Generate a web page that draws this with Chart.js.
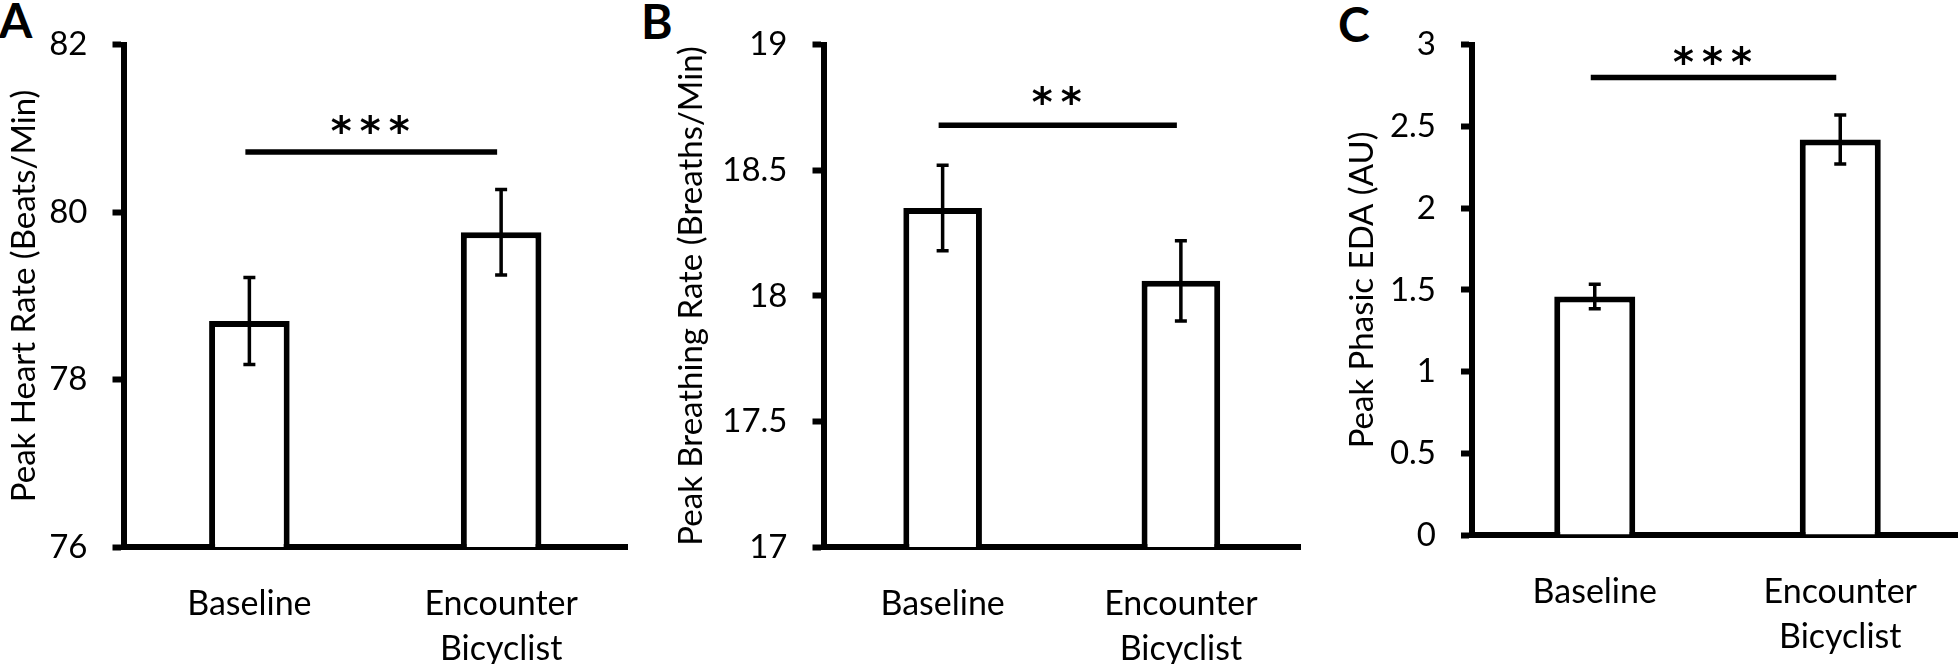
<!DOCTYPE html>
<html>
<head>
<meta charset="utf-8">
<script src="https://cdn.jsdelivr.net/npm/chart.js@4.4.1/dist/chart.umd.min.js"></script>
<style>
  html, body { margin: 0; padding: 0; background: #fff; overflow: hidden; width: 1958px; height: 664px; }
  canvas { position: absolute; top: 0; }
  .tag { position: absolute; font-family: Lato, sans-serif; font-weight: 700; font-size: 48px; line-height: 1; color: #000; }
</style>
</head>
<body>
<div class="tag" style="left:-1px;top:-4px">A</div>
<div class="tag" style="left:641px;top:-3px">B</div>
<div class="tag" style="left:1338px;top:0px">C</div>
<canvas id="chartA" width="630" height="664" style="left:0"></canvas>
<canvas id="chartB" width="672" height="664" style="left:630px"></canvas>
<canvas id="chartC" width="665" height="664" style="left:1302px"></canvas>
<script>
// categories (second one wraps on two lines)
const categories = ["Baseline", ["Encounter", "Bicyclist"]];

// A - heart rate
const heartRate = [78.70, 79.76];
const heartErr = [0.52, 0.51];
const heartTicks = [76, 78, 80, 82];

// B - breathing rate
const breathRate = [18.35, 18.06];
const breathErr = [0.17, 0.16];
const breathTicks = [17, 17.5, 18, 18.5, 19];

// C - phasic EDA
const edaPeak = [1.46, 2.42];
const edaErr = [0.075, 0.15];
const edaTicks = [0, 0.5, 1, 1.5, 2, 2.5, 3];

// significance bracket: line level, star level, stars
const sigLine = [80.72, 18.68, 2.80];
const sigStarLevel = [81.05, 18.80, 2.94];
const sigStars = ["***", "**", "***"];

const TEXT = "#000";
const FONT = "Lato, 'Open Sans', sans-serif";

// draws error bars and the significance bracket on top of the bars
function makeOverlay(errors, lineVal, starVal, stars){
    return {
        id: "overlay",
        afterDatasetsDraw(chart){
            const ctx = chart.ctx;
            const y = chart.scales.y;
            const meta = chart.getDatasetMeta(0);
            const values = chart.data.datasets[0].data;
            ctx.save();
            ctx.strokeStyle = "#000";
            ctx.lineWidth = 3.5;
            ctx.lineCap = "butt";
            meta.data.forEach((bar, i) => {
                const top = y.getPixelForValue(values[i] + errors[i]);
                const bot = y.getPixelForValue(values[i] - errors[i]);
                ctx.beginPath();
                ctx.moveTo(bar.x, top); ctx.lineTo(bar.x, bot);
                ctx.moveTo(bar.x - 6, top); ctx.lineTo(bar.x + 6, top);
                ctx.moveTo(bar.x - 6, bot); ctx.lineTo(bar.x + 6, bot);
                ctx.stroke();
            });

            const x0 = meta.data[0].x;
            const x1 = meta.data[1].x;
            const ly = y.getPixelForValue(lineVal);
            ctx.lineWidth = 5.5;
            ctx.beginPath();
            ctx.moveTo(x0 - 4, ly);
            ctx.lineTo(x1 - 4, ly);
            ctx.stroke();

            ctx.fillStyle = "#000";
            ctx.font = "bold 40px 'DejaVu Sans'";
            ctx.textAlign = "center";
            ctx.textBaseline = "alphabetic";
            const m = ctx.measureText("*");
            const sy = y.getPixelForValue(starVal) + (m.actualBoundingBoxAscent - m.actualBoundingBoxDescent) / 2;
            const pitch = 29;
            const cx = (x0 + x1) / 2 - 5;
            const n = stars.length;
            for(let k = 0; k < n; k++){
                ctx.fillText("*", cx + (k - (n - 1) / 2) * pitch, sy);
            }
            ctx.restore();
        }
    };
}

function makeChart(id, opts){
    const ctx = document.getElementById(id).getContext("2d");
    return new Chart(ctx, {
        type: "bar",
        data: {
            labels: categories,
            datasets: [{
                data: opts.values,
                backgroundColor: "#fff",
                borderColor: "#000",
                borderWidth: 6,
                categoryPercentage: 1,
                barPercentage: opts.barPct
            }]
        },
        options: {
            responsive: false,
            animation: false,
            layout: { padding: { left: 0, top: opts.top, right: opts.right, bottom: 0 } },
            plugins: { legend: { display: false }, tooltip: { enabled: false } },
            scales: {
                x: {
                    grid: { display: false },
                    border: { display: true, color: "#000", width: 6 },
                    ticks: {
                        color: TEXT,
                        font: { family: FONT, size: 34, lineHeight: 1.32 },
                        padding: 27,
                        maxRotation: 0,
                        autoSkip: false
                    },
                    afterFit: s => { s.height = opts.xHeight; }
                },
                y: {
                    min: opts.ticks[0],
                    max: opts.ticks[opts.ticks.length - 1],
                    afterBuildTicks: s => { s.ticks = opts.ticks.map(v => ({ value: v })); },
                    grid: { display: true, drawOnChartArea: false, drawTicks: true, tickLength: 11, tickWidth: 6, tickColor: "#000" },
                    border: { display: true, color: "#000", width: 6 },
                    ticks: {
                        color: TEXT,
                        font: { family: FONT, size: 33 },
                        padding: 25,
                        callback: v => String(v)
                    },
                    title: {
                        display: true,
                        text: opts.title,
                        color: TEXT,
                        font: { family: FONT, size: 33, lineHeight: 1.2 },
                        padding: { top: opts.titlePad, bottom: 0 }
                    },
                    afterFit: s => { s.width = opts.yWidth; }
                }
            }
        },
        plugins: [makeOverlay(opts.errors, opts.sigLine, opts.sigStar, opts.stars)]
    });
}

makeChart("chartA", {
    values: heartRate, errors: heartErr, ticks: heartTicks,
    title: "Peak Heart Rate (Beats/Min)",
    sigLine: sigLine[0], sigStar: sigStarLevel[0], stars: sigStars[0],
    barPct: 0.32, top: 30.5, right: 3, xHeight: 117, yWidth: 123.5, titlePad: 5
});

makeChart("chartB", {
    values: breathRate, errors: breathErr, ticks: breathTicks,
    title: "Peak Breathing Rate (Breaths/Min)",
    sigLine: sigLine[1], sigStar: sigStarLevel[1], stars: sigStars[1],
    barPct: 0.33, top: 30.5, right: 2, xHeight: 117, yWidth: 193.5, titlePad: 42
});

makeChart("chartC", {
    values: edaPeak, errors: edaErr, ticks: edaTicks,
    title: "Peak Phasic EDA (AU)",
    sigLine: sigLine[2], sigStar: sigStarLevel[2], stars: sigStars[2],
    barPct: 0.33, top: 20.5, right: 4, xHeight: 129, yWidth: 170, titlePad: 41
});
</script>
</body>
</html>
